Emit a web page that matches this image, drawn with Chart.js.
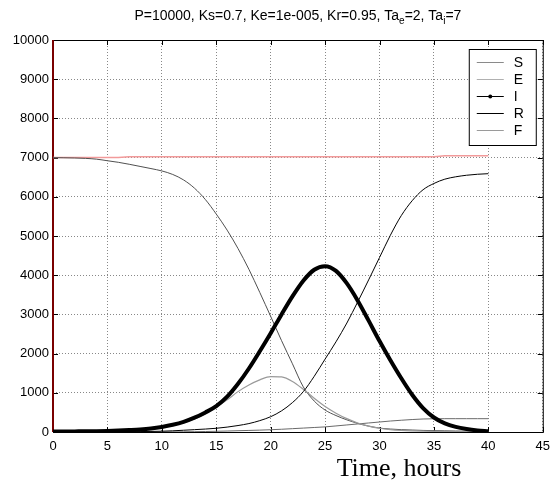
<!DOCTYPE html>
<html>
<head>
<meta charset="utf-8">
<script src="https://cdn.jsdelivr.net/npm/chart.js@4.4.1/dist/chart.umd.min.js"></script>
<style>
  html, body { margin: 0; padding: 0; background: #fff; }
</style>
</head>
<body>
<canvas id="myChart" width="557" height="480"></canvas>
<script>
// time in hours
const hours = [0,1,2,3,4,5,6,7,8,9,10,11,12,13,14,15,16,17,18,19,20,
               21,22,23,24,25,26,27,28,29,30,31,32,33,34,35,36,37,38,39,40];

const sValues = [7000,6995,6990,6980,6960,6920,6880,6830,6775,6720,6660,6570,6430,6220,5930,5560,5150,4680,4150,3560,2950,
                 2330,1740,1150,790,560,420,310,220,150,100,75,60,50,40,35,30,25,22,20,18];
const eValues = [0,8,11,14,18,24,32,43,57,80,115,165,235,330,460,630,820,1030,1200,1330,1415,
                 1405,1290,1090,860,650,480,340,230,150,95,60,40,28,20,15,12,10,8,7,6];
const iValues = [10,12,15,18,22,28,38,50,65,90,130,185,260,365,500,660,900,1230,1620,2060,2520,
                 3000,3460,3860,4140,4230,4110,3790,3350,2840,2320,1830,1370,950,610,370,220,130,75,40,20];
const rValues = [0,0,0,1,2,3,5,8,11,15,20,30,45,60,75,95,125,165,215,290,390,
                 540,750,1030,1420,1860,2300,2780,3320,3880,4450,5020,5520,5900,6180,6340,6450,6510,6550,6575,6590];
const fValues = [0,0,0,0,0,0,0,0,0,0,0,2,5,8,12,18,25,33,40,48,58,
                 70,85,100,115,130,155,180,205,230,255,280,300,318,332,338,340,340,340,340,340];
// pink line, nearly flat
const totalValues = [7000,7000,7000,7000,7000,7000,7000,7020,7020,7020,7020,7020,7020,7020,7020,7020,7020,7020,7020,7020,7020,
                     7020,7020,7020,7020,7020,7020,7020,7020,7020,7020,7020,7020,7020,7020,7020,7050,7050,7050,7050,7050];
// dark red line standing on t = 0
const edgeX = [0, 0];
const edgeY = [0, 10000];

const legendNames = ['S', 'E', 'I', 'R', 'F'];
const xLabel = 'Time, hours';
// title pieces, second item true = subscript
const titleParts = [['P=10000, Ks=0.7, Ke=1e-005, Kr=0.95, Ta', false], ['e', true], ['=2, Ta', false], ['i', true], ['=7', false]];

const pts = vals => hours.map((t, i) => ({x: t, y: vals[i]}));

const curve = (label, vals, color, width, order) => ({
    label: label,
    data: pts(vals),
    borderColor: color,
    backgroundColor: color,
    borderWidth: width,
    pointRadius: 0,
    cubicInterpolationMode: 'monotone',
    order: order
});

const datasets = [
    curve('S', sValues, '#505050', 1, 3),
    curve('E', eValues, '#9a9a9a', 1.2, 2),
    curve('I', iValues, '#000000', 4, 0),
    curve('R', rValues, '#000000', 1, 1),
    curve('F', fValues, '#6a6a6a', 1, 4),
    {label: 'total', data: pts(totalValues), borderColor: '#f29a9a', borderWidth: 1.5, pointRadius: 0, tension: 0, order: 5},
    {label: 'edge', data: edgeX.map((x, i) => ({x: x, y: edgeY[i]})), borderColor: '#7a0000', borderWidth: 2, pointRadius: 0, clip: false, order: 6}
];

const legendStyle = [
    {color: '#8a8a8a', width: 1, dot: false},
    {color: '#b0b0b0', width: 1, dot: false},
    {color: '#000000', width: 1, dot: true},
    {color: '#000000', width: 1, dot: false},
    {color: '#9a9a9a', width: 1, dot: false}
];

// box and inward ticks like matlab
const framePlugin = {
    id: 'frame',
    beforeDatasetsDraw(chart) {
        const {ctx, chartArea: a, scales} = chart;
        ctx.save();
        ctx.strokeStyle = '#000';
        ctx.lineWidth = 1;
        ctx.strokeRect(a.left + 0.5, a.top + 0.5, a.right - a.left, a.bottom - a.top);
        ctx.beginPath();
        scales.x.ticks.forEach(t => {
            const px = Math.round(scales.x.getPixelForValue(t.value)) + 0.5;
            ctx.moveTo(px, a.bottom); ctx.lineTo(px, a.bottom - 5);
            ctx.moveTo(px, a.top); ctx.lineTo(px, a.top + 5);
        });
        scales.y.ticks.forEach(t => {
            const py = Math.round(scales.y.getPixelForValue(t.value)) + 0.5;
            ctx.moveTo(a.left, py); ctx.lineTo(a.left + 5, py);
            ctx.moveTo(a.right, py); ctx.lineTo(a.right - 5, py);
        });
        ctx.stroke();
        ctx.restore();
    },
    afterDraw(chart) {
        const {ctx, chartArea: a} = chart;
        ctx.save();
        // title with subscripts
        const big = '14px "Liberation Sans", Arial, sans-serif';
        const small = '10px "Liberation Sans", Arial, sans-serif';
        let total = 0;
        titleParts.forEach(p => { ctx.font = p[1] ? small : big; total += ctx.measureText(p[0]).width; });
        let x = (a.left + a.right) / 2 - total / 2;
        ctx.fillStyle = '#000';
        ctx.textBaseline = 'alphabetic';
        ctx.textAlign = 'left';
        titleParts.forEach(p => {
            ctx.font = p[1] ? small : big;
            ctx.fillText(p[0], x, p[1] ? 24 : 20);
            x += ctx.measureText(p[0]).width;
        });

        // x axis label
        ctx.font = '26px "Liberation Serif", "Times New Roman", serif';
        ctx.textAlign = 'center';
        ctx.fillText(xLabel, a.left + 346, 476);

        // legend box
        const bx = a.right - 74, by = 49, bw = 67, bh = 96;
        ctx.fillStyle = '#fff';
        ctx.fillRect(bx, by, bw, bh);
        ctx.strokeStyle = '#000';
        ctx.lineWidth = 1;
        ctx.strokeRect(bx + 0.5, by + 0.5, bw, bh);
        ctx.font = '14px "Liberation Sans", Arial, sans-serif';
        ctx.textAlign = 'left';
        ctx.textBaseline = 'middle';
        legendNames.forEach((name, i) => {
            const y = by + 13.5 + i * 17;
            const st = legendStyle[i];
            ctx.strokeStyle = st.color;
            ctx.lineWidth = st.width;
            ctx.beginPath();
            ctx.moveTo(bx + 8, y); ctx.lineTo(bx + 35, y);
            ctx.stroke();
            if (st.dot) {
                ctx.fillStyle = st.color;
                ctx.beginPath();
                ctx.arc(bx + 21.5, y, 2, 0, Math.PI * 2);
                ctx.fill();
            }
            ctx.fillStyle = '#000';
            ctx.fillText(name, bx + 45, y + 1);
        });
        ctx.restore();
    }
};

const tickFont = {family: '"Liberation Sans", Arial, sans-serif', size: 13};

const config = {
    type: 'line',
    data: {datasets: datasets},
    options: {
        responsive: false,
        animation: false,
        devicePixelRatio: 1,
        layout: {padding: {top: 40, right: 7, left: 0, bottom: 0}},
        plugins: {legend: {display: false}, title: {display: false}, tooltip: {enabled: false}},
        scales: {
            x: {
                type: 'linear', min: 0, max: 45,
                afterFit: s => { s.height = 48; },
                ticks: {stepSize: 5, color: '#000', padding: 7, maxRotation: 0, font: tickFont,
                        callback: v => String(v)},
                grid: {color: '#888888', lineWidth: 1, drawTicks: false},
                border: {display: false, dash: [1, 2]}
            },
            y: {
                min: 0, max: 10000,
                afterFit: s => { s.width = 53; },
                ticks: {stepSize: 1000, color: '#000', padding: 4, font: tickFont,
                        callback: v => String(v)},
                grid: {color: '#888888', lineWidth: 1, drawTicks: false},
                border: {display: false, dash: [1, 2]}
            }
        }
    },
    plugins: [framePlugin]
};

const myChart = new Chart(document.getElementById('myChart'), config);
</script>
</body>
</html>
